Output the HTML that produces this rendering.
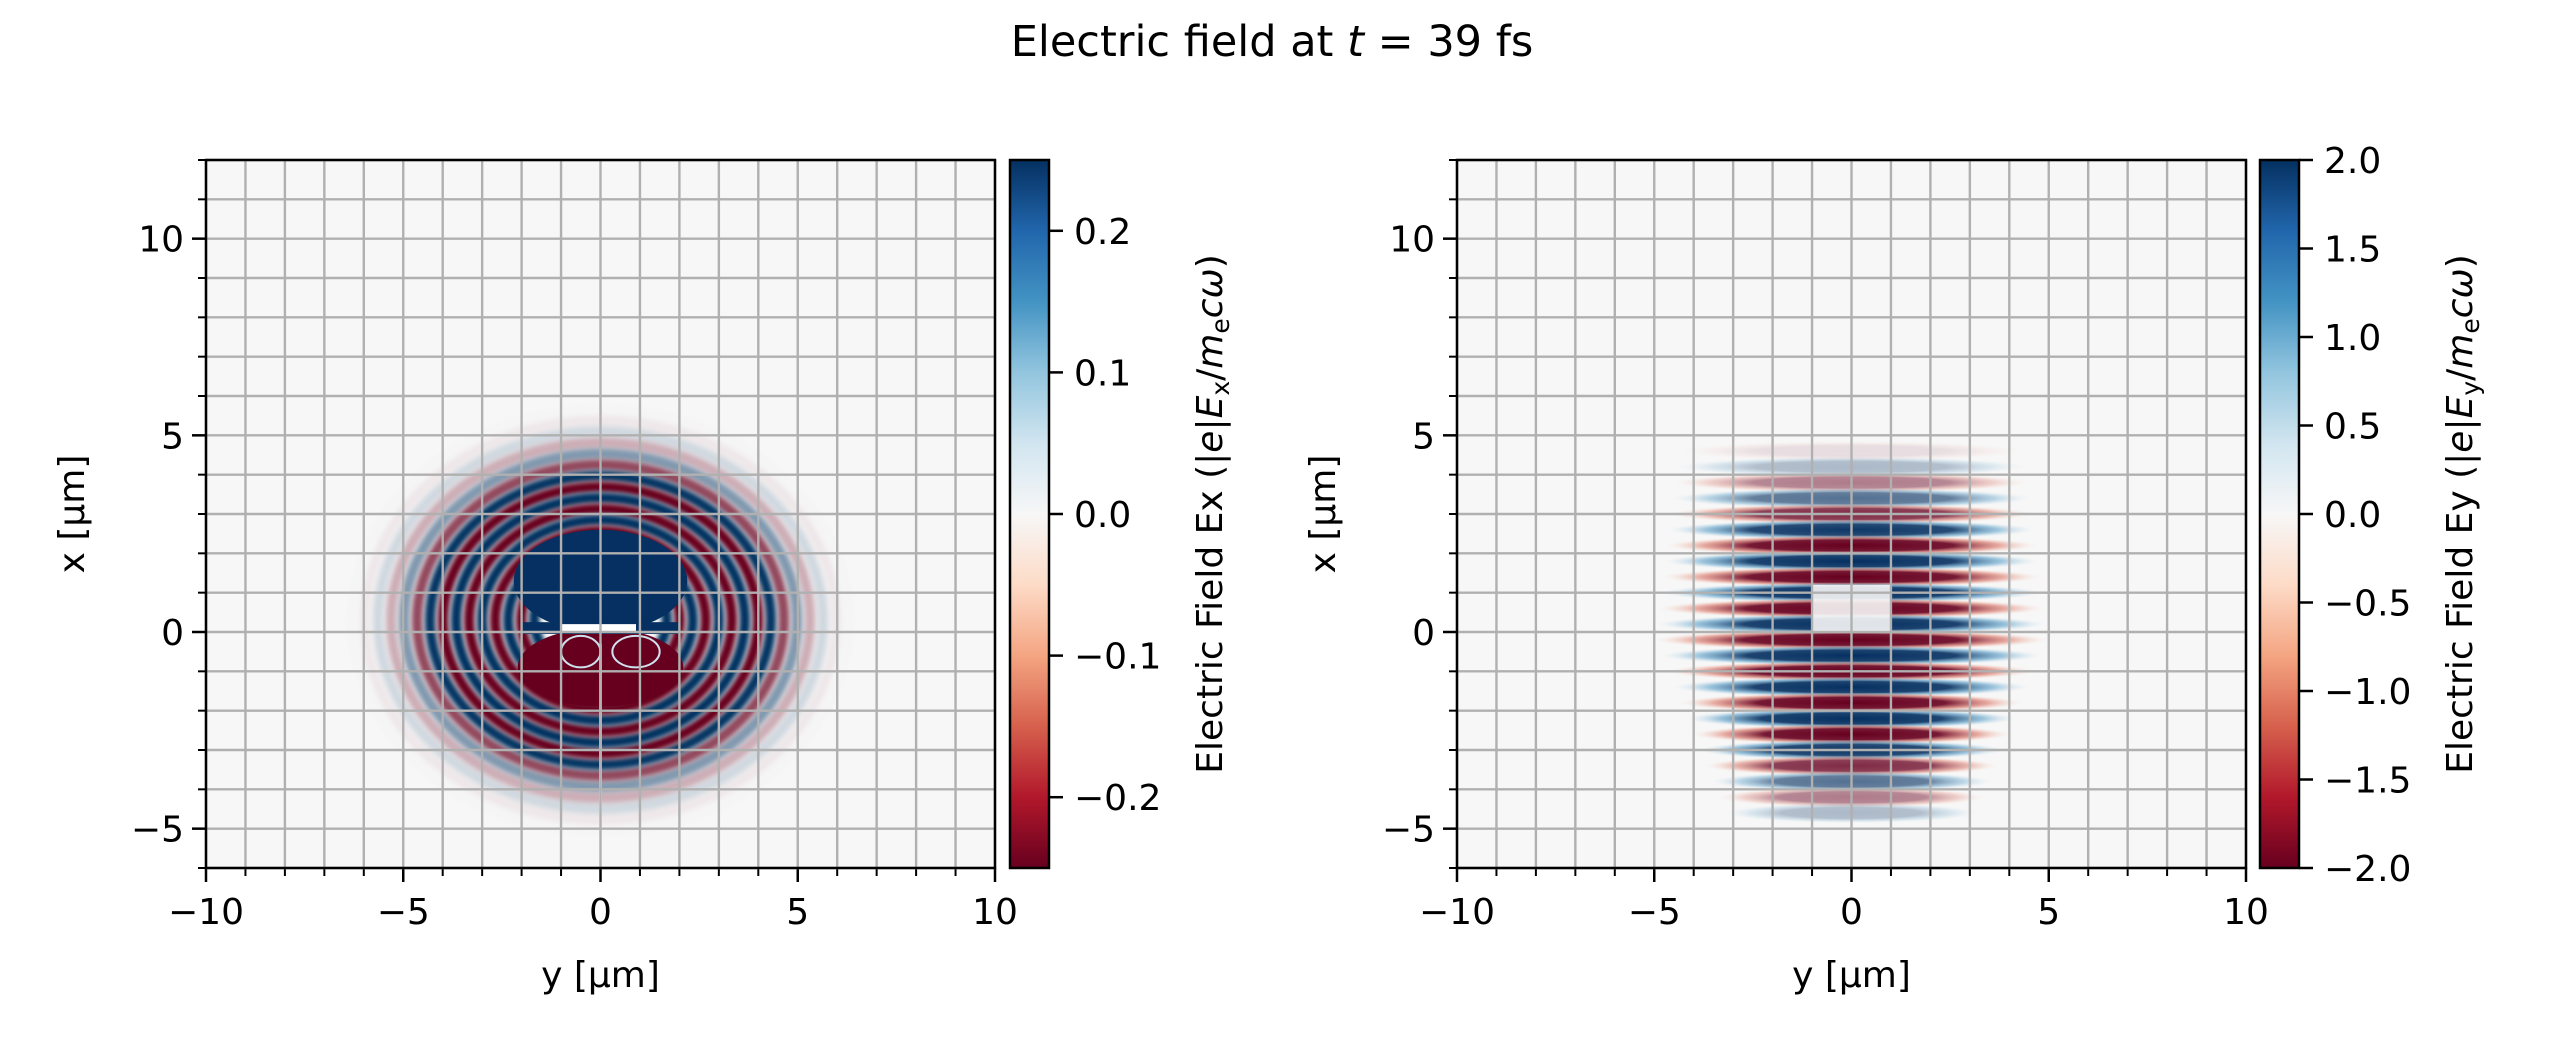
<!DOCTYPE html>
<html><head><meta charset="utf-8"><style>
html,body{margin:0;padding:0;background:#fff;overflow:hidden}
svg{display:block}
text{font-family:"DejaVu Sans","Liberation Sans",sans-serif;fill:#000}
</style></head><body>
<svg id="s" width="2550" height="1050" xmlns="http://www.w3.org/2000/svg">
<defs>
<linearGradient id="rdbu" x1="0" y1="1" x2="0" y2="0">
<stop offset="0" stop-color="#67001f"/><stop offset="0.1" stop-color="#b2182b"/><stop offset="0.2" stop-color="#d6604d"/><stop offset="0.3" stop-color="#f4a582"/><stop offset="0.4" stop-color="#fddbc7"/><stop offset="0.5" stop-color="#f7f7f7"/><stop offset="0.6" stop-color="#d1e5f0"/><stop offset="0.7" stop-color="#92c5de"/><stop offset="0.8" stop-color="#4393c3"/><stop offset="0.9" stop-color="#2166ac"/><stop offset="1" stop-color="#053061"/>
</linearGradient>
<radialGradient id="fb"><stop offset="0" stop-color="#053061" stop-opacity="1"/><stop offset="0.55" stop-color="#053061" stop-opacity="0.9"/><stop offset="0.8" stop-color="#4393c3" stop-opacity="0.5"/><stop offset="1" stop-color="#d1e5f0" stop-opacity="0"/></radialGradient>
<radialGradient id="fr"><stop offset="0" stop-color="#67001f" stop-opacity="1"/><stop offset="0.55" stop-color="#67001f" stop-opacity="0.9"/><stop offset="0.8" stop-color="#d6604d" stop-opacity="0.5"/><stop offset="1" stop-color="#fddbc7" stop-opacity="0"/></radialGradient>
<filter id="bl"><feGaussianBlur stdDeviation="2.5"/></filter>
</defs>
<text x="1272" y="56" font-size="43" text-anchor="middle">Electric field at <tspan font-style="italic">t</tspan> = 39 fs</text>
<g id="root"></g>
</svg>
<script>
const NS="http://www.w3.org/2000/svg";
const root=document.getElementById('root');
function el(t,a,p){const e=document.createElementNS(NS,t);for(const k in a)e.setAttribute(k,a[k]);(p||root).appendChild(e);return e;}
const Y0=160,W=789,H=708,SX=W/20,SY=H/18,FS=36;
function axes(X0,lab,ticks,cbx,cblabel,draw){
  el('rect',{x:X0,y:Y0,width:W,height:H,fill:'#f7f7f7'});
  const g=el('g',{});
  const px=v=>X0+W/2+v*SX, py=v=>Y0+H-(v+6)*SY;
  draw(g,px,py);
  for(let v=-10;v<=10;v++){const x=px(v);el('line',{x1:x,y1:Y0,x2:x,y2:Y0+H,stroke:'#b0b0b0','stroke-width':2.4});
    el('line',{x1:x,y1:Y0+H,x2:x,y2:Y0+H+(v%5==0?14:8),stroke:'#000','stroke-width':v%5==0?2.5:2});}
  for(let v=-6;v<=12;v++){const y=py(v);el('line',{x1:X0,y1:y,x2:X0+W,y2:y,stroke:'#b0b0b0','stroke-width':2.4});
    el('line',{x1:X0,y1:y,x2:X0-(v%5==0?14:8),y2:y,stroke:'#000','stroke-width':v%5==0?2.5:2});}
  el('rect',{x:X0,y:Y0,width:W,height:H,fill:'none',stroke:'#000','stroke-width':2.5});
  for(const v of [-10,-5,0,5,10]){const t=el('text',{x:px(v),y:924,'font-size':FS,'text-anchor':'middle'});t.textContent=(v<0?'\u2212'+(-v):v);}
  for(const v of [-5,0,5,10]){const t=el('text',{x:X0-22,y:py(v)+13,'font-size':FS,'text-anchor':'end'});t.textContent=(v<0?'\u2212'+(-v):v);}
  let t=el('text',{x:X0+W/2,y:987,'font-size':FS,'text-anchor':'middle'});t.textContent='y [\u00b5m]';
  t=el('text',{transform:`translate(${X0-122},${Y0+H/2}) rotate(-90)`,'font-size':FS,'text-anchor':'middle'});t.textContent='x [\u00b5m]';
  el('rect',{x:cbx,y:Y0,width:39,height:H,fill:'url(#rdbu)',stroke:'#000','stroke-width':2.5});
  for(const [v,s] of ticks){const y=Y0+H/2-v*H;el('line',{x1:cbx+39,y1:y,x2:cbx+53,y2:y,stroke:'#000','stroke-width':2.5});
    const tt=el('text',{x:cbx+64,y:y+13,'font-size':FS});tt.textContent=s;}
  t=el('text',{transform:`translate(${cblabel},${Y0+H/2}) rotate(-90)`,'font-size':FS,'text-anchor':'middle'});t.innerHTML=lab;
}
const B='#053061',R='#67001f';
function left(g,px,py){
  const cx=px(0),cy=py(0.3);
  let k=0;
  for(let r=6.3;r>1.5;r-=0.33){
    const f=Math.min(1,Math.max(0,(6.5-r)/2.2));
    let c=(k%2==0)?B:R;
    el('ellipse',{cx:cx,cy:cy,rx:r*SX,ry:r*0.85*SY,fill:'none',stroke:c,'stroke-width':0.27*SX,opacity:(f*f).toFixed(3),filter:'url(#bl)'},g);
    k++;
  }
  el('ellipse',{cx:cx,cy:py(1.3),rx:2.2*SX,ry:1.3*SY,fill:B},g);
  el('ellipse',{cx:cx,cy:py(-0.9),rx:2.1*SX,ry:1.0*SY,fill:R},g);
  el('rect',{x:px(-2.0),y:py(0.25),width:4.0*SX,height:0.3*SY,fill:B},g);
  el('ellipse',{cx:px(-0.5),cy:py(-0.5),rx:0.5*SX,ry:0.4*SY,fill:'none',stroke:'#cfe0ee','stroke-width':2},g);
  el('ellipse',{cx:px(0.9),cy:py(-0.5),rx:0.6*SX,ry:0.4*SY,fill:'none',stroke:'#cfe0ee','stroke-width':2},g);
  el('rect',{x:px(-1.0),y:py(0.2),width:1.9*SX,height:0.18*SY,fill:'#fff'},g);
  el('line',{x1:cx,y1:py(-5),x2:cx,y2:py(-0.3),stroke:'#f7f7f7','stroke-width':3,opacity:0.6},g);
}
function right(g,px,py){
  let k=0;
  for(let x=4.6;x>-4.9;x-=0.4){
    const ax=Math.abs(x+0.2);
    let rx=x>0?5.0-0.12*ax:5.0-0.4*ax;
    let op=Math.max(0,1-Math.pow(ax/5,2));
    let c=(k%2==0)?'url(#fr)':'url(#fb)';
    el('ellipse',{cx:px(0),cy:py(x),rx:rx*SX,ry:0.26*SY,fill:c,opacity:Math.min(1,op*1.4).toFixed(3)},g);
    k++;
  }
  el('rect',{x:px(-1.0),y:py(1.2),width:2.0*SX,height:1.2*SY,fill:'#f7f7f7',opacity:0.9},g);
}
axes(206,'Electric Field Ex (|<tspan font-style="italic">e</tspan>|<tspan font-style="italic">E</tspan><tspan font-size="25" dy="7">x</tspan><tspan dy="-7">/</tspan><tspan font-style="italic">m</tspan><tspan font-size="25" dy="7">e</tspan><tspan dy="-7" font-style="italic">cω</tspan>)',
 [[0.4,'0.2'],[0.2,'0.1'],[0,'0.0'],[-0.2,'\u22120.1'],[-0.4,'\u22120.2']],1010,1222,left);
axes(1457,'Electric Field Ey (|<tspan font-style="italic">e</tspan>|<tspan font-style="italic">E</tspan><tspan font-size="25" dy="7">y</tspan><tspan dy="-7">/</tspan><tspan font-style="italic">m</tspan><tspan font-size="25" dy="7">e</tspan><tspan dy="-7" font-style="italic">cω</tspan>)',
 [[0.5,'2.0'],[0.375,'1.5'],[0.25,'1.0'],[0.125,'0.5'],[0,'0.0'],[-0.125,'\u22120.5'],[-0.25,'\u22121.0'],[-0.375,'\u22121.5'],[-0.5,'\u22122.0']],2260,2472,right);
</script>
</body></html>
